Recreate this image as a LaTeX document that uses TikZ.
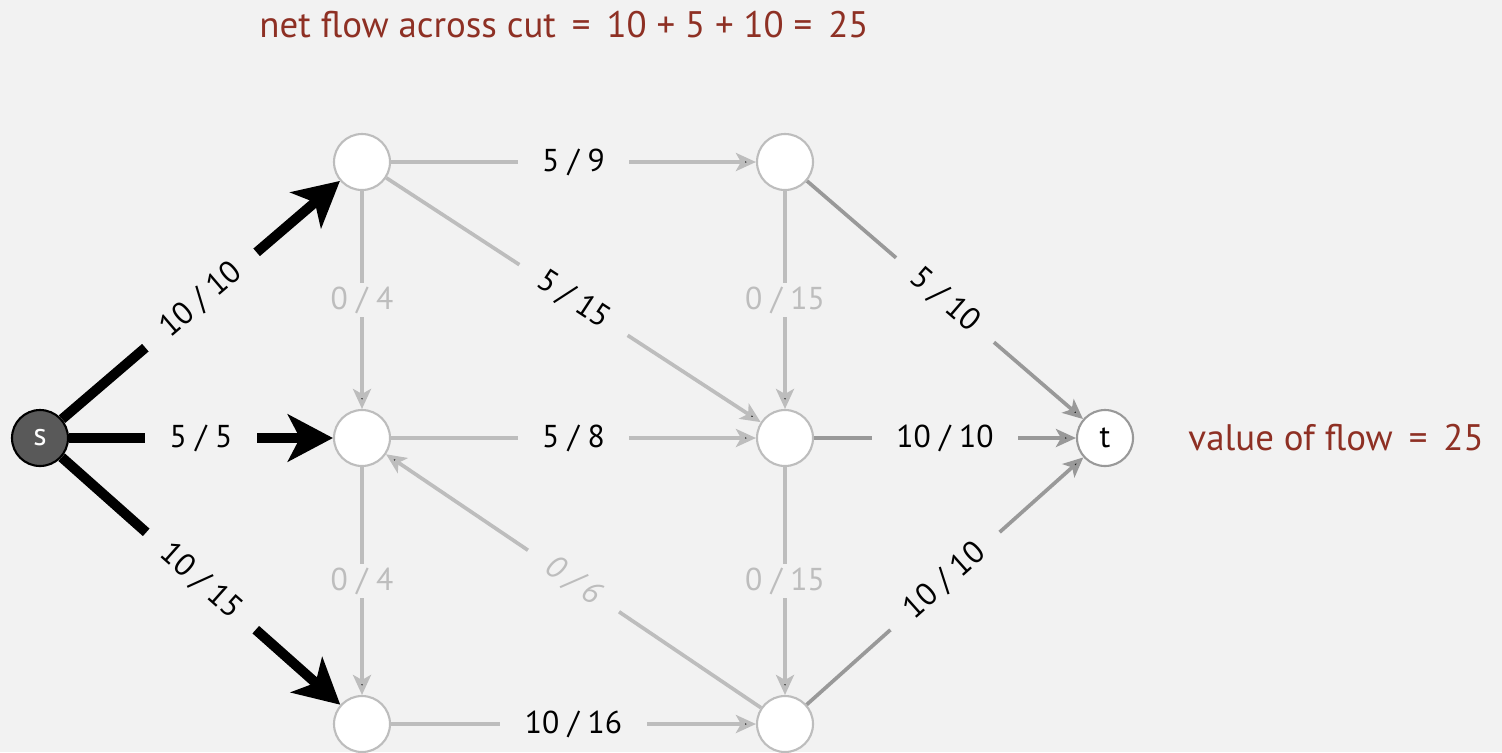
\documentclass[tikz,border=0pt]{standalone}
\usepackage{fontspec}
\setmainfont{PT Sans}
\usetikzlibrary{arrows.meta, positioning}

\definecolor{bg}{HTML}{F2F2F2}
\definecolor{lightedge}{HTML}{BDBDBD}
\definecolor{darkedge}{HTML}{999999}
\definecolor{cutred}{HTML}{8E3024}

\tikzset{
    vtx/.style={shape=circle, draw=lightedge, fill=white, line width=0.6pt, minimum size=0.56cm, inner sep=0pt},
    flow/.style={draw=lightedge, line width=1.05pt, -{Stealth[length=0.2cm, width=0.18cm, inset=0.05cm]}},
    full/.style={draw=darkedge, line width=1.05pt, -{Stealth[length=0.2cm, width=0.18cm, inset=0.05cm]}},
    cut/.style={draw=black, line width=0.1cm, -{Stealth[length=0.45cm, width=0.47cm, inset=0.12cm]}},
    lbl/.style={fill=bg, inner xsep=7pt, inner ysep=1pt, font=\fontsize{9}{11}\selectfont, text=black},
    zero/.style={lbl, text=lightedge},
}

\begin{document}
\begin{tikzpicture}
        \fill[bg] (0,0) rectangle (15.02,7.52);
        \useasboundingbox (0,0) rectangle (15.02,7.52);

        \node[vtx, draw=black, fill=black!65, text=white, font=\fontsize{9}{11}\selectfont] (s) at (0.40,3.14) {s};
        \node[vtx] (a) at (3.62,5.90) {};
        \node[vtx] (b) at (7.85,5.90) {};
        \node[vtx] (c) at (3.62,3.14) {};
        \node[vtx] (d) at (7.85,3.14) {};
        \node[vtx] (e) at (3.62,0.28) {};
        \node[vtx] (f) at (7.85,0.28) {};
        \node[vtx, draw=darkedge, font=\fontsize{9}{11}\selectfont] (t) at (11.05,3.14) {t};

        % edges leaving s
        \path[cut] (s) edge node[lbl, sloped] {10 / 10} (a);
        \path[cut] (s) edge node[lbl] {5 / 5} (c);
        \path[cut] (s) edge node[lbl, sloped] {10 / 15} (e);

        % inner edges
        \path[flow] (a) edge node[lbl] {5 / 9} (b);
        \path[flow] (a) edge node[zero] {0 / 4} (c);
        \path[flow] (a) edge node[lbl, sloped] {5 / 15} (d);
        \path[flow] (b) edge node[zero] {0 / 15} (d);
        \path[flow] (c) edge node[lbl] {5 / 8} (d);
        \path[flow] (c) edge node[zero] {0 / 4} (e);
        \path[flow] (f) edge node[zero, sloped, font=\fontsize{9}{11}\selectfont\itshape] {0 / 6} (c);
        \path[flow] (d) edge node[zero] {0 / 15} (f);
        \path[flow] (e) edge node[lbl] {10 / 16} (f);

        % edges into t
        \path[full] (b) edge node[lbl, sloped] {5 / 10} (t);
        \path[full] (d) edge node[lbl] {10 / 10} (t);
        \path[full] (f) edge node[lbl, sloped] {10 / 10} (t);

        \node[text=cutred, font=\fontsize{10.5}{12}\selectfont] (title) at (5.64,7.27) {net flow across cut \,=\, 10 + 5 + 10 = \,25};
        \node[text=cutred, font=\fontsize{10.5}{12}\selectfont, right=0.42cm of t] (value) {value of flow \,=\, 25};
\end{tikzpicture}
\end{document}
